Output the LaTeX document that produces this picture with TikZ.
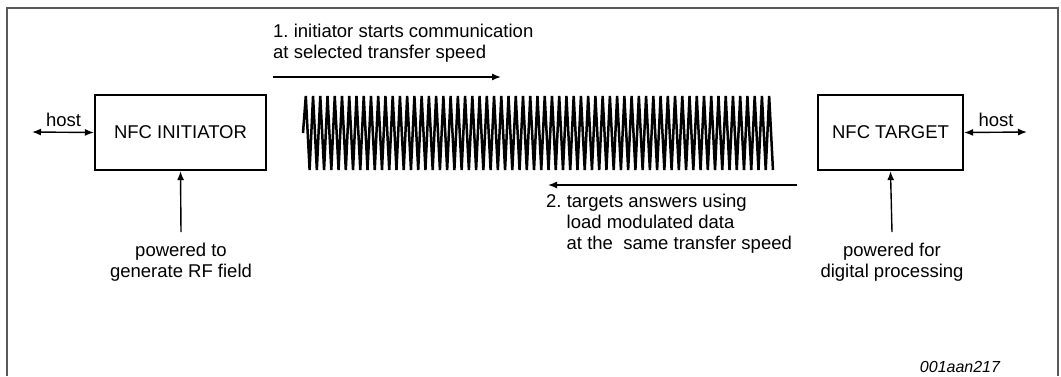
\documentclass[tikz,border=0pt]{standalone}
\usepackage{fontspec}
\setmainfont{Liberation Sans}
\usetikzlibrary{arrows.meta}
\frenchspacing
\begin{document}
\begin{tikzpicture}[x=1pt,y=-1pt,
  box/.style={draw, line width=2.2pt, minimum width=171pt, minimum height=75pt, inner sep=0pt, font=\fontsize{18.5}{21}\selectfont},
  lbl/.style={inner sep=0pt, font=\fontsize{18.5}{21}\selectfont},
  arr/.style={line width=1.4pt, -{Latex[length=9pt,width=7pt]}},
  darr/.style={line width=1.4pt, {Latex[length=9pt,width=7pt]}-{Latex[length=9pt,width=7pt]}},
  wave/.style={line width=2.5pt, line join=bevel}]
\useasboundingbox (0,0) rectangle (1061,376);
% frame
\draw[line width=1.2pt, black!65] (7,376) -- (7,8) -- (1058,8) -- (1058,376);
% boxes
\node[box] (ini) at (180.5,132.5) {NFC INITIATOR};
\node[box, minimum width=145pt] (tgt) at (890.5,132.5) {NFC TARGET};
% host arrows
\coordinate (hl) at (32,132);
\coordinate (hr) at (1027,132);
\draw[darr] (hl) -- (ini.west);
\draw[darr] (tgt.east) -- (hr);
\node[lbl] (hostl) at (63.5,120) {host};
\node[lbl] (hostr) at (996,120) {host};
% power arrows
\coordinate (pi) at (181,232);
\coordinate (pt) at (892,232);
\draw[arr] (pi) -- (ini.south);
\draw[arr] (pt) -- (tgt.south);
\node[lbl, align=center, anchor=north] (powi) at (181,243) {powered to\\generate RF field};
\node[lbl, align=center, anchor=north] (powt) at (892,243) {powered for\\digital processing};
% top message
\node[lbl, align=left, anchor=north west] (msg1) at (273,24) {1. initiator starts communication\\at selected transfer speed};
\coordinate (a1s) at (273,77);
\coordinate (a1e) at (501,77);
\draw[arr] (a1s) -- (a1e);
% bottom message
\coordinate (a2s) at (797,185);
\coordinate (a2e) at (548,185);
\draw[arr] (a2s) -- (a2e);
\node[lbl, align=left, anchor=north west] (msg2) at (546,194) {2. targets answers using\\\hspace*{20.5pt}load modulated data\\\hspace*{20.5pt}at the\ \ same transfer speed};
% waveform
\draw[wave] (303,133) \foreach \k in {0,...,64} { -- ({305.8+7.24*\k},96) -- ({309.6+7.24*\k},170) };
% id
\node[inner sep=0pt, font=\fontsize{16}{18}\selectfont\itshape] (id) at (960,367) {001aan217};
\end{tikzpicture}
\end{document}
